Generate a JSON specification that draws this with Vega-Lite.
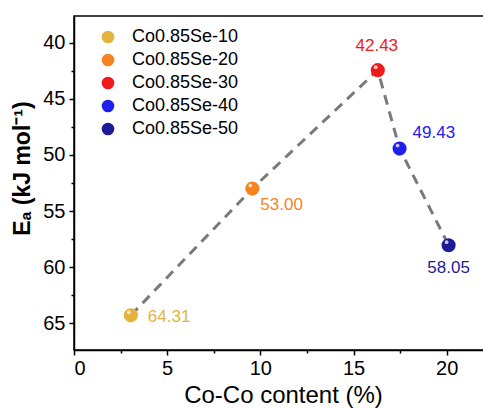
{
  "$schema": "https://vega.github.io/schema/vega-lite/v6.json",
  "width": 410,
  "height": 334,
  "autosize": {"type": "none"},
  "padding": {"left": 74, "top": 16, "right": 0, "bottom": 58},
  "background": "white",
  "config": {
    "font": "Liberation Sans",
    "view": {"stroke": "black", "strokeWidth": 1.5},
    "axis": {"grid": false, "domainColor": "black", "domainWidth": 1.5, "tickColor": "black", "tickWidth": 1.5, "labelColor": "black", "titleColor": "black", "labelFontSize": 20, "labelFont": "Liberation Sans", "titleFont": "Liberation Sans"}
  },
  "data": {
    "values": [
      {"sample": "Co0.85Se-10", "content": 3.05, "ea": 64.31, "label": "64.31"},
      {"sample": "Co0.85Se-20", "content": 9.57, "ea": 53.00, "label": "53.00"},
      {"sample": "Co0.85Se-30", "content": 16.3, "ea": 42.43, "label": "42.43"},
      {"sample": "Co0.85Se-40", "content": 17.47, "ea": 49.43, "label": "49.43"},
      {"sample": "Co0.85Se-50", "content": 20.1, "ea": 58.05, "label": "58.05"}
    ]
  },
  "encoding": {
    "x": {"field": "content", "type": "quantitative", "scale": {"domain": [0, 22], "nice": false, "zero": false},
      "axis": {"title": "Co-Co content (%)", "values": [0, 2.5, 5, 7.5, 10, 12.5, 15, 17.5, 20],
        "labelExpr": "datum.value % 5 === 0 ? datum.label : ''",
        "tickSize": {"condition": {"test": "datum.value % 5 === 0", "value": 5}, "value": 3},
        "labelPadding": 3, "titleFontSize": 24, "titleFontWeight": "normal", "titleX": 209, "titleY": 45, "titleBaseline": "middle", "titleAnchor": null}},
    "y": {"field": "ea", "type": "quantitative", "scale": {"domain": [37.6, 67.4], "reverse": true, "nice": false, "zero": false},
      "axis": {"title": "Eₐ (kJ mol⁻¹)", "values": [40, 42.5, 45, 47.5, 50, 52.5, 55, 57.5, 60, 62.5, 65],
        "labelExpr": "datum.value % 5 === 0 ? datum.label : ''",
        "tickSize": {"condition": {"test": "datum.value % 5 === 0", "value": 5}, "value": 3},
        "labelPadding": 4, "titleFontSize": 23, "titleFontWeight": "bold", "titleX": -52, "titleY": 152, "titleAngle": -90, "titleAlign": "center", "titleBaseline": "middle"}}
  },
  "layer": [
    {"mark": {"type": "line", "color": "#7a7a7a", "strokeWidth": 3, "strokeDash": [10, 7]}},
    {"mark": {"type": "point", "filled": true, "opacity": 1, "size": 200},
      "encoding": {"color": {"field": "sample", "type": "nominal", "title": null,
        "scale": {"domain": ["Co0.85Se-10", "Co0.85Se-20", "Co0.85Se-30", "Co0.85Se-40", "Co0.85Se-50"], "range": ["#e3b43c", "#f5841f", "#f01a1a", "#2020ee", "#1c1c96"]},
        "legend": {"orient": "none", "legendX": 25, "legendY": 12, "symbolType": "circle", "symbolSize": 160, "symbolOpacity": 1, "labelFontSize": 18, "labelOffset": 15, "rowPadding": 5, "padding": 0, "labelColor": "black", "labelFont": "Liberation Sans"}}}},
    {"mark": {"type": "point", "filled": true, "color": "white", "opacity": 0.75, "size": 14, "xOffset": -2, "yOffset": -3}},
    {"transform": [{"filter": "datum.label === '64.31'"}],
      "mark": {"type": "text", "fontSize": 17, "align": "left", "baseline": "middle", "dx": 17, "dy": 2},
      "encoding": {"text": {"field": "label"}, "color": {"field": "sample", "type": "nominal"}}},
    {"transform": [{"filter": "datum.label === '53.00'"}],
      "mark": {"type": "text", "fontSize": 17, "align": "left", "baseline": "middle", "dx": 8, "dy": 16},
      "encoding": {"text": {"field": "label"}, "color": {"field": "sample", "type": "nominal"}}},
    {"transform": [{"filter": "datum.label === '42.43'"}],
      "mark": {"type": "text", "fontSize": 17, "align": "center", "baseline": "middle", "dx": -1, "dy": -24},
      "encoding": {"text": {"field": "label"}, "color": {"field": "sample", "type": "nominal"}}},
    {"transform": [{"filter": "datum.label === '49.43'"}],
      "mark": {"type": "text", "fontSize": 17, "align": "left", "baseline": "middle", "dx": 13, "dy": -16},
      "encoding": {"text": {"field": "label"}, "color": {"field": "sample", "type": "nominal"}}},
    {"transform": [{"filter": "datum.label === '58.05'"}],
      "mark": {"type": "text", "fontSize": 17, "align": "center", "baseline": "middle", "dx": 0, "dy": 23},
      "encoding": {"text": {"field": "label"}, "color": {"field": "sample", "type": "nominal"}}}
  ]
}
